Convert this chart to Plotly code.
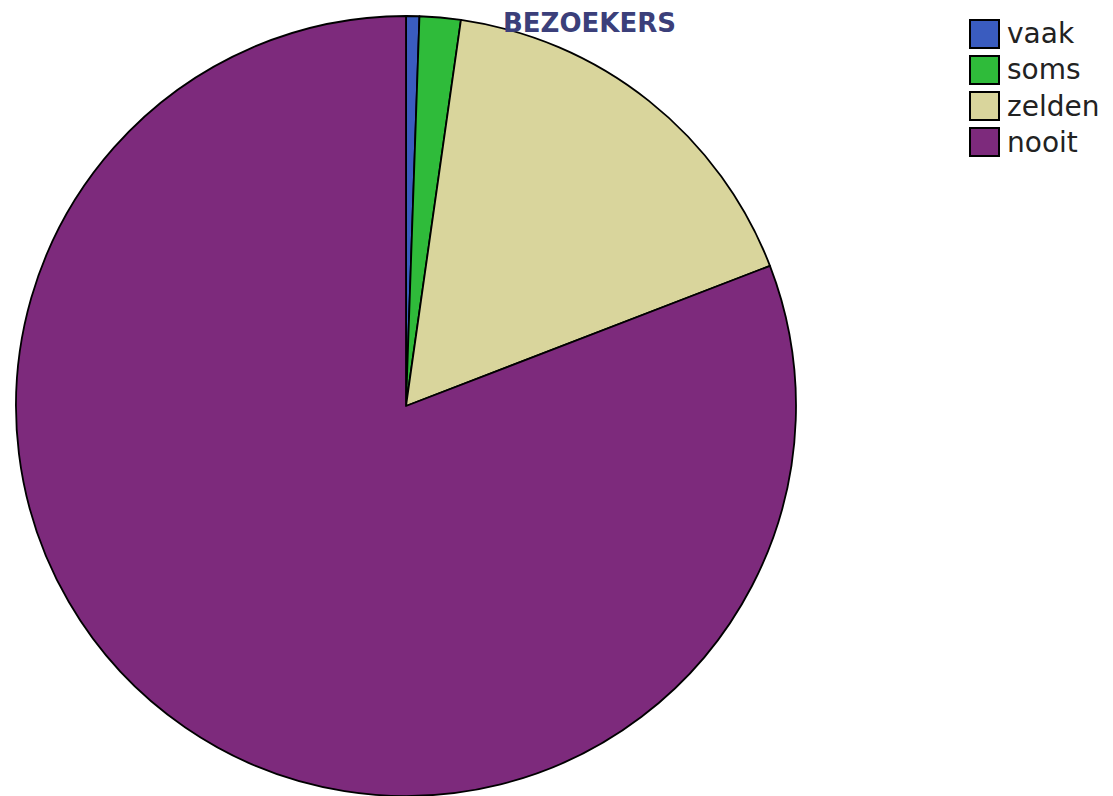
import plotly.graph_objects as go

labels = ["vaak", "soms", "zelden", "nooit"]
values = [0.55, 1.7, 16.9, 80.85]
colors = ["#3a5cbf", "#2fbb3a", "#d9d59c", "#7d2a7c"]
title_text = "BEZOEKERS"

W, H = 1113, 796
OFF = 8  # page body margin in the browser
cx, cy, r = 406 - OFF, 406 - OFF, 390

fig = go.Figure(go.Pie(
    labels=labels, values=values, sort=False, direction="clockwise", rotation=0,
    marker=dict(colors=colors, line=dict(color="black", width=1.8)),
    textinfo="none", hoverinfo="label+percent", showlegend=False,
    domain=dict(x=[(cx - r) / W, (cx + r) / W], y=[1 - (cy + r) / H, 1 - (cy - r) / H]),
))

# custom legend (large boxes like the reference)
box_x0, box_x1 = 970 - OFF, 999 - OFF
row_top = [20 - OFF, 56 - OFF, 92 - OFF, 128 - OFF]
box_h = 28
for lab, col, top in zip(labels, colors, row_top):
    fig.add_shape(type="rect", xref="paper", yref="paper",
                  x0=box_x0 / W, x1=box_x1 / W,
                  y0=1 - (top + box_h) / H, y1=1 - top / H,
                  fillcolor=col, line=dict(color="black", width=2))
    fig.add_annotation(text=lab, xref="paper", yref="paper",
                       x=(1005 - OFF) / W, y=1 - (top + box_h / 2) / H,
                       xanchor="left", yanchor="middle", showarrow=False,
                       font=dict(family="DejaVu Sans", size=28, color="#222222"))

fig.add_annotation(text="<b>" + title_text + "</b>", xref="paper", yref="paper",
                   x=(589 - OFF) / W, y=1 - (23 - OFF) / H, xanchor="center", yanchor="middle",
                   showarrow=False,
                   font=dict(family="DejaVu Sans", size=26, color="#3b3f7a"))

fig.update_layout(width=W, height=H, margin=dict(l=0, r=0, t=0, b=0),
                  paper_bgcolor="white", plot_bgcolor="white")
fig.write_html("out.html")
